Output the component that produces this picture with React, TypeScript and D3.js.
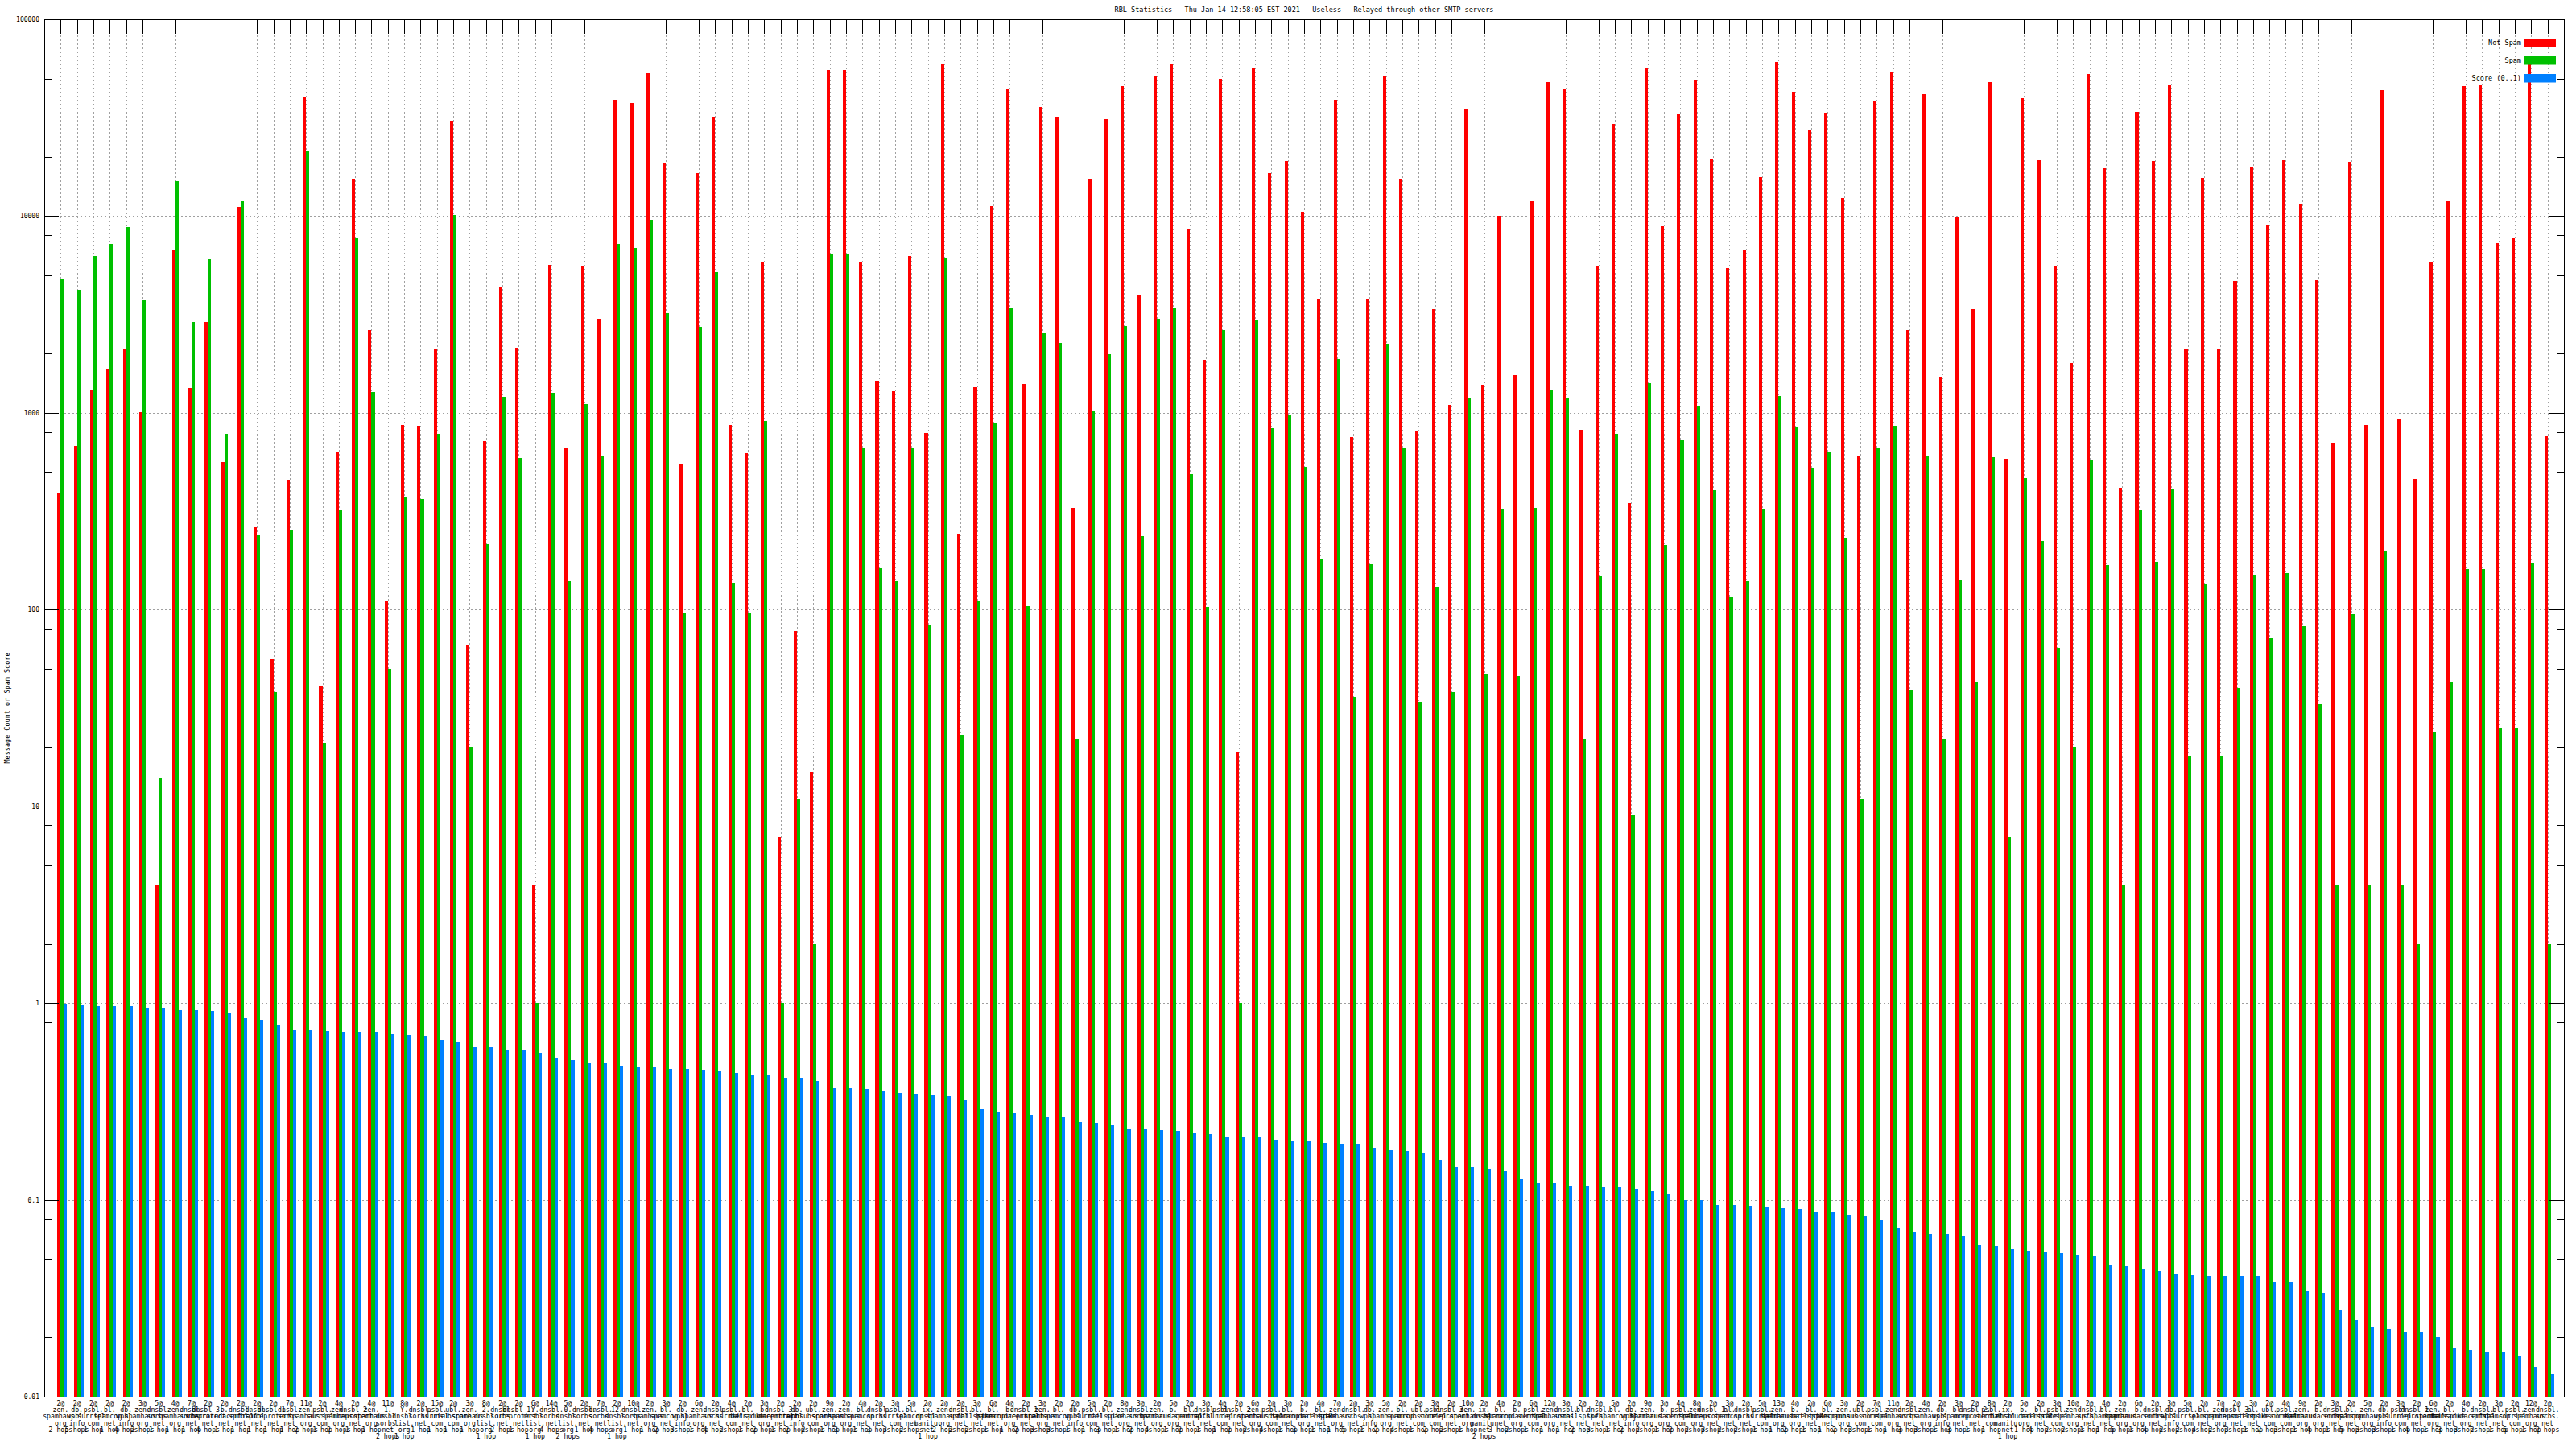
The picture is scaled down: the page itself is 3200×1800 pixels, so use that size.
import * as d3 from "d3";

const title = "RBL Statistics - Thu Jan 14 12:58:05 EST 2021 - Useless - Relayed through other SMTP servers";
const yTitle = "Message Count or Spam Score";
const seriesNames = ["Not Spam", "Spam", "Score (0..1)"];
const seriesColors = ["#ff0000", "#00c000", "#0080ff"];
const yTickValues = [100000, 10000, 1000, 100, 10, 1, 0.1, 0.01];
const yTickLabels = ["100000", "10000", "1000", "100", "10", "1", "0.1", "0.01"];

// label lines are separated by "|"
const categories: string[] = [
  "2@|zen.|spamhaus.|org|2 hops", "2@|db.|wpbl.|info|5 hops", "2@|psbl.|surriel.|com|1 hop", "2@|bl.|spamcop.|net|1 hop",
  "2@|db.|wpbl.|info|4 hops", "3@|zen.|spamhaus.|org|2 hops", "5@|dnsbl.|sorbs.|net|1 hop", "4@|zen.|spamhaus.|org|1 hop",
  "7@|dnsbl.|sorbs.|net|1 hop", "2@|dnsbl-3.|uceprotect.|net|4 hops", "2@|b.|barracudacentral.|net|1 hop", "2@|dnsbl.|spfbl.|net|1 hop",
  "2@|dnsbl.|spfbl.|net|1 hop", "2@|dnsbl-1.|uceprotect.|net|1 hop", "7@|dnsbl.|sorbs.|net|1 hop", "11@|zen.|spamhaus.|org|2 hops",
  "2@|psbl.|surriel.|com|1 hop", "4@|zen.|spamhaus.|org|2 hops", "2@|dnsbl-2.|uceprotect.|net|1 hop", "4@|zen.|spamhaus.|org|1 hop",
  "11@|1.|dnsbl.|sorbs.|net|2 hops", "8@|Y.|dnsbl.|list.|org|1 hop", "2@|dnsbl.|sorbs.|net|1 hop", "15@|psbl.|surriel.|com|1 hop",
  "2@|ubl.|unsubscore.|com|1 hop", "3@|zen.|spamhaus.|org|1 hop", "8@|2.|dnsbl.|list.|org|1 hop", "2@|dnsbl.|sorbs.|net|2 hops",
  "2@|dnsbl-1.|uceprotect.|net|1 hop", "6@|Y.|dnsbl.|list.|org|1 hop", "14@|dnsbl.|sorbs.|net|4 hops", "5@|0.|dnsbl.|list.|org|2 hops",
  "2@|dnsbl.|sorbs.|net|1 hop", "7@|dnsbl.|sorbs.|net|4 hops", "2@|12.|dnsbl.|list.|org|1 hop", "10@|dnsbl.|sorbs.|net|1 hop",
  "2@|zen.|spamhaus.|org|1 hop", "3@|bl.|spamcop.|net|2 hops", "2@|db.|wpbl.|info|3 hops", "6@|zen.|spamhaus.|org|1 hop",
  "2@|dnsbl.|sorbs.|net|4 hops", "4@|psbl.|surriel.|com|2 hops", "2@|bl.|mailspike.|net|1 hop", "3@|b.|barracudacentral.|org|2 hops",
  "2@|dnsbl-3.|uceprotect.|net|1 hop", "2@|db.|wpbl.|info|2 hops", "2@|ubl.|unsubscore.|com|2 hops", "9@|zen.|spamhaus.|org|1 hop",
  "2@|zen.|spamhaus.|org|3 hops", "4@|bl.|spamcop.|net|1 hop", "2@|dnsbl.|sorbs.|net|3 hops", "3@|psbl.|surriel.|com|3 hops",
  "5@|bl.|spamcop.|net|2 hops", "2@|ix.|dnsbl.|manitu.|net|1 hop", "2@|zen.|spamhaus.|org|2 hops", "2@|dnsbl.|spfbl.|net|2 hops",
  "3@|bl.|mailspike.|net|2 hops", "6@|bl.|spamcop.|net|1 hop", "4@|b.|barracudacentral.|org|1 hop", "2@|dnsbl-1.|uceprotect.|net|2 hops",
  "3@|zen.|spamhaus.|org|3 hops", "2@|bl.|spamcop.|net|3 hops", "2@|db.|wpbl.|info|1 hop", "5@|psbl.|surriel.|com|1 hop",
  "2@|bl.|mailspike.|net|3 hops", "8@|zen.|spamhaus.|org|1 hop", "3@|dnsbl.|sorbs.|net|2 hops", "2@|zen.|spamhaus.|org|4 hops",
  "5@|b.|barracudacentral.|org|1 hop", "2@|bl.|spamcop.|net|2 hops", "3@|dnsbl.|spfbl.|net|1 hop", "4@|psbl.|surriel.|com|1 hop",
  "2@|dnsbl-2.|uceprotect.|net|2 hops", "6@|zen.|spamhaus.|org|2 hops", "2@|psbl.|surriel.|com|4 hops", "3@|bl.|spamcop.|net|1 hop",
  "2@|b.|barracudacentral.|org|3 hops", "4@|bl.|mailspike.|net|1 hop", "7@|zen.|spamhaus.|org|1 hop", "2@|dnsbl.|sorbs.|net|5 hops",
  "3@|db.|wpbl.|info|1 hop", "5@|zen.|spamhaus.|org|2 hops", "2@|bl.|spamcop.|net|4 hops", "2@|ubl.|unsubscore.|com|1 hop",
  "3@|psbl.|surriel.|com|2 hops", "2@|dnsbl-3.|uceprotect.|net|2 hops", "10@|zen.|spamhaus.|org|1 hop", "2@|ix.|dnsbl.|manitu.|net|2 hops",
  "4@|bl.|spamcop.|net|3 hops", "2@|b.|barracudacentral.|org|2 hops", "6@|psbl.|surriel.|com|1 hop", "12@|zen.|spamhaus.|org|1 hop",
  "3@|dnsbl.|sorbs.|net|1 hop", "2@|bl.|mailspike.|net|2 hops", "2@|dnsbl.|spfbl.|net|3 hops", "5@|bl.|spamcop.|net|1 hop",
  "2@|db.|wpbl.|info|2 hops", "9@|zen.|spamhaus.|org|2 hops", "3@|b.|barracudacentral.|org|1 hop", "4@|psbl.|surriel.|com|2 hops",
  "8@|zen.|spamhaus.|org|2 hops", "2@|dnsbl-1.|uceprotect.|net|3 hops", "3@|bl.|spamcop.|net|2 hops", "2@|dnsbl.|sorbs.|net|2 hops",
  "5@|psbl.|surriel.|com|1 hop", "13@|zen.|spamhaus.|org|1 hop", "4@|b.|barracudacentral.|org|2 hops", "2@|bl.|mailspike.|net|1 hop",
  "6@|bl.|spamcop.|net|1 hop", "3@|zen.|spamhaus.|org|2 hops", "2@|ubl.|unsubscore.|com|3 hops", "7@|psbl.|surriel.|com|1 hop",
  "11@|zen.|spamhaus.|org|1 hop", "2@|dnsbl.|sorbs.|net|3 hops", "4@|zen.|spamhaus.|org|3 hops", "2@|db.|wpbl.|info|1 hop",
  "3@|bl.|spamcop.|net|3 hops", "2@|dnsbl-2.|uceprotect.|net|1 hop", "8@|psbl.|surriel.|com|1 hop", "2@|ix.|dnsbl.|manitu.|net|1 hop",
  "5@|b.|barracudacentral.|org|1 hop", "2@|bl.|mailspike.|net|4 hops", "3@|psbl.|surriel.|com|2 hops", "10@|zen.|spamhaus.|org|2 hops",
  "2@|dnsbl.|spfbl.|net|1 hop", "4@|bl.|spamcop.|net|1 hop", "2@|zen.|spamhaus.|org|5 hops", "6@|b.|barracudacentral.|org|1 hop",
  "2@|dnsbl.|sorbs.|net|4 hops", "3@|db.|wpbl.|info|2 hops", "5@|psbl.|surriel.|com|2 hops", "2@|bl.|spamcop.|net|4 hops",
  "7@|zen.|spamhaus.|org|2 hops", "2@|dnsbl-3.|uceprotect.|net|3 hops", "3@|bl.|mailspike.|net|1 hop", "2@|ubl.|unsubscore.|com|2 hops",
  "4@|psbl.|surriel.|com|3 hops", "9@|zen.|spamhaus.|org|1 hop", "2@|b.|barracudacentral.|org|4 hops", "3@|dnsbl.|sorbs.|net|1 hop",
  "2@|bl.|spamcop.|net|5 hops", "5@|zen.|spamhaus.|org|3 hops", "2@|db.|wpbl.|info|3 hops", "3@|psbl.|surriel.|com|1 hop",
  "2@|dnsbl-1.|uceprotect.|net|4 hops", "6@|zen.|spamhaus.|org|1 hop", "2@|bl.|mailspike.|net|3 hops", "4@|b.|barracudacentral.|org|3 hops",
  "2@|dnsbl.|spfbl.|net|2 hops", "3@|bl.|spamcop.|net|1 hop", "2@|psbl.|surriel.|com|5 hops", "12@|zen.|spamhaus.|org|1 hop",
  "2@|dnsbl.|sorbs.|net|2 hops",
];

const notSpam: number[] = [
  391, 681, 1318, 1654, 2118, 1008, 4, 6718, 1332, 2886,
  560, 11130, 261, 56, 456, 40380, 41, 634, 15480, 2629,
  110, 864, 855, 2118, 30570, 66, 718, 4402, 2140, 4,
  5637, 667, 5523, 3007, 39150, 37570, 53330, 18450, 554, 16470,
  31850, 864, 621, 5875, 7, 78, 15, 55010, 55010, 5875,
  1461, 1291, 6249, 787, 59110, 243, 1345, 11250, 44300, 1402,
  35680, 31850, 328, 15480, 31200, 45680, 3971, 51170, 59730, 8603,
  1852, 49620, 19, 56150, 16470, 19030, 10570, 3772, 39150, 755,
  3811, 51170, 15480, 804, 3368, 1095, 34950, 1388, 10040, 1554,
  11840, 48110, 44300, 820, 5523, 29330, 349, 56150, 8873, 32860,
  49110, 19430, 5466, 6788, 15800, 60970, 42950, 27580, 33540, 12340,
  608, 38740, 54440, 2629, 41640, 1522, 9938, 3368, 48110, 584,
  39550, 19220, 5580, 1796, 52790, 17520, 415, 33880, 19030, 46150,
  2096, 15640, 2096, 4682, 17700, 9057, 19220, 11480, 4732, 703,
  18830, 864, 43840, 928, 461, 5875, 11840, 45680, 46150, 7295,
  7680, 64000, 763,
];

const spam: number[] = [
  4831, 4225, 6249, 7218, 8783, 3733, 14, 15010, 2886, 6058,
  779, 11840, 238, 38, 256, 21530, 21, 321, 7680, 1278,
  50, 375, 363, 779, 10150, 20, 215, 1201, 590, 1,
  1265, 139, 1106, 608, 7218, 6859, 9537, 3198, 96, 2740,
  5192, 137, 96, 910, 1, 11, 2, 6446, 6379, 667,
  164, 139, 667, 83, 6121, 23, 110, 882, 3402, 104,
  2549, 2276, 22, 1019, 1991, 2768, 236, 3007, 3438, 490,
  103, 2629, 1, 2945, 838, 968, 532, 182, 1871, 36,
  171, 2252, 667, 34, 130, 38, 1189, 47, 324, 46,
  328, 1318, 1189, 22, 147, 779, 9, 1417, 213, 732,
  1084, 403, 115, 139, 324, 1214, 846, 527, 634, 231,
  11, 661, 855, 39, 602, 22, 141, 43, 596, 7,
  465, 224, 64, 20, 578, 168, 4, 321, 175, 407,
  18, 135, 18, 40, 151, 72, 153, 82, 33, 4,
  95, 4, 198, 4, 2, 24, 43, 161, 161, 25,
  25, 173, 2,
];

const score: number[] = [
  0.99, 0.969, 0.96, 0.96, 0.96, 0.95, 0.95, 0.921, 0.921, 0.911,
  0.884, 0.839, 0.822, 0.773, 0.734, 0.727, 0.719, 0.712, 0.712, 0.712,
  0.697, 0.69, 0.683, 0.649, 0.629, 0.604, 0.604, 0.579, 0.579, 0.556,
  0.528, 0.512, 0.501, 0.501, 0.481, 0.476, 0.471, 0.461, 0.461, 0.457,
  0.452, 0.443, 0.434, 0.434, 0.416, 0.416, 0.4, 0.372, 0.372, 0.364,
  0.36, 0.349, 0.346, 0.342, 0.339, 0.322, 0.29, 0.281, 0.279, 0.27,
  0.262, 0.262, 0.249, 0.246, 0.241, 0.231, 0.229, 0.227, 0.224, 0.22,
  0.215, 0.209, 0.209, 0.209, 0.202, 0.2, 0.2, 0.194, 0.192, 0.192,
  0.184, 0.179, 0.177, 0.173, 0.16, 0.147, 0.146, 0.144, 0.14, 0.129,
  0.122, 0.121, 0.118, 0.118, 0.117, 0.117, 0.114, 0.111, 0.107, 0.1,
  0.0994, 0.0944, 0.0944, 0.0934, 0.0924, 0.0906, 0.0897, 0.0869, 0.0869, 0.0843,
  0.0834, 0.0792, 0.0722, 0.0693, 0.0672, 0.0672, 0.0658, 0.0593, 0.0582, 0.0564,
  0.0552, 0.0546, 0.0541, 0.0524, 0.0519, 0.0463, 0.0459, 0.0449, 0.0436, 0.0422,
  0.0414, 0.0409, 0.0409, 0.0409, 0.0409, 0.0381, 0.0381, 0.0344, 0.0337, 0.0277,
  0.0245, 0.0225, 0.0221, 0.0212, 0.0212, 0.0201, 0.0176, 0.0172, 0.017, 0.0169,
  0.016, 0.0142, 0.013,
];

const FONT = "'DejaVu Sans Mono', 'Liberation Mono', monospace";

export default function App() {
  const width = 3200;
  const height = 1800;
  const left = 55;
  const right = 3185;
  const top = 24;
  const bottom = 1735;

  const x = d3.scaleLinear().domain([0, categories.length + 1]).range([left, right]);
  const y = d3.scaleLog().domain([0.01, 100000]).range([bottom, top]);
  const step = x(1) - x(0);
  const bw = step / 5;
  const series = [notSpam, spam, score];
  const idx = d3.range(1, categories.length + 1);
  const minors = d3.range(-2, 5).flatMap((e) => [2, 5, 8].map((m) => m * Math.pow(10, e)));

  return (
    <svg
      width={width}
      height={height}
      viewBox={`0 0 ${width} ${height}`}
      style={{ position: "absolute", left: 0, top: 0, background: "#fff" }}
      fontFamily={FONT}
    >
      <rect x={0} y={0} width={width} height={height} fill="#fff" />
      <text x={(left + right) / 2} y={15} fontSize={8.5} textAnchor="middle" fill="#000">
        {title}
      </text>

      {/* grid */}
      <g stroke="#a0a0a0" strokeWidth={1} strokeDasharray="2,3" shapeRendering="crispEdges">
        {idx.map((k) => (
          <line key={"gv" + k} x1={Math.round(x(k)) + 0.5} x2={Math.round(x(k)) + 0.5} y1={top} y2={bottom} />
        ))}
        {yTickValues.map((v) => (
          <line key={"gh" + v} x1={left} x2={right} y1={Math.round(y(v)) + 0.5} y2={Math.round(y(v)) + 0.5} />
        ))}
      </g>

      {/* bars */}
      <g shapeRendering="crispEdges">
        {series.map((vals, j) =>
          vals.map((v, i) => {
            const k = i + 1;
            const x0 = x(k) + (j - 1) * bw;
            const yt = y(Math.min(v, 100000));
            return (
              <rect key={`b${j}-${k}`} x={x0} y={yt} width={bw} height={bottom - yt} fill={seriesColors[j]} />
            );
          })
        )}
      </g>

      {/* ticks and border */}
      <g stroke="#000" strokeWidth={1} shapeRendering="crispEdges">
        {idx.map((k) => (
          <line key={"tt" + k} x1={Math.round(x(k)) + 0.5} x2={Math.round(x(k)) + 0.5} y1={top} y2={top + 18} />
        ))}
        {yTickValues.map((v) => (
          <g key={"ty" + v}>
            <line x1={left} x2={left + 18} y1={Math.round(y(v)) + 0.5} y2={Math.round(y(v)) + 0.5} />
            <line x1={right - 18} x2={right} y1={Math.round(y(v)) + 0.5} y2={Math.round(y(v)) + 0.5} />
          </g>
        ))}
        {minors.map((v) => (
          <g key={"tm" + v}>
            <line x1={left} x2={left + 9} y1={Math.round(y(v)) + 0.5} y2={Math.round(y(v)) + 0.5} />
            <line x1={right - 9} x2={right} y1={Math.round(y(v)) + 0.5} y2={Math.round(y(v)) + 0.5} />
          </g>
        ))}
        <rect x={left + 0.5} y={top + 0.5} width={right - left} height={bottom - top} fill="none" />
      </g>

      {/* y tick labels */}
      {yTickValues.map((v, i) => (
        <text key={"yl" + v} x={49} y={y(v) + 3} fontSize={8} textAnchor="end" fill="#000">
          {yTickLabels[i]}
        </text>
      ))}
      <text
        transform={`translate(9, ${(top + bottom) / 2}) rotate(-90)`}
        fontSize={8.5}
        textAnchor="middle"
        dominantBaseline="middle"
        fill="#000"
      >
        {yTitle}
      </text>

      {/* x labels */}
      {categories.map((c, i) => (
        <text key={"xl" + i} fontSize={8.2} textAnchor="middle" fill="#000">
          {c.split("|").map((line, li) => (
            <tspan key={li} x={x(i + 1)} y={1746 + li * 8.2}>
              {line}
            </tspan>
          ))}
        </text>
      ))}

      {/* legend */}
      {seriesNames.map((name, j) => (
        <g key={"lg" + j}>
          <text x={3132} y={56 + j * 22} fontSize={8.5} textAnchor="end" fill="#000">
            {name}
          </text>
          <rect x={3136} y={48 + j * 22} width={39} height={10.5} fill={seriesColors[j]} />
        </g>
      ))}
    </svg>
  );
}
